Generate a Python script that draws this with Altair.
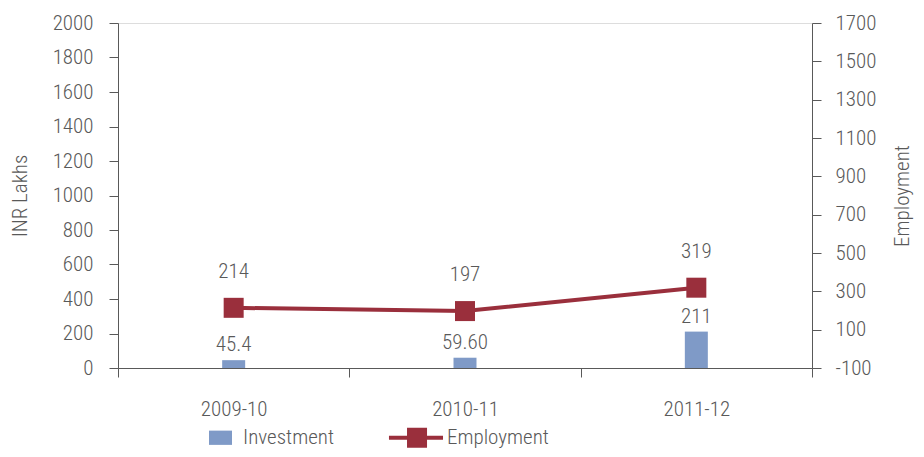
import altair as alt
import pandas as pd

years = ["2009-10", "2010-11", "2011-12"]
investment = [45.4, 59.60, 211]
investment_labels = ["45.4", "59.60", "211"]
employment = [214, 197, 319]
employment_labels = ["214", "197", "319"]
series = ["Investment", "Employment"]
left_ticks = list(range(0, 2001, 200))
right_ticks = list(range(-100, 1701, 200))

BLUE = "#7F9AC7"
RED = "#9A2F3C"
GREY = "#595959"
FONT = "Roboto Condensed, Liberation Sans Narrow, DejaVu Sans Condensed, Roboto"
FS = 21
FW = 300

df = pd.DataFrame({
    "year": years,
    "inv": investment,
    "inv_label": investment_labels,
    "emp": employment,
    "emp_label": employment_labels,
})
# hidden points (clipped, below the plot) that only carry the legend
legend_df = pd.DataFrame({"year": [years[0]] * 2, "inv": [-5000, -5000], "series": series})

x_enc = alt.X(
    "year:N",
    sort=years,
    scale=alt.Scale(paddingInner=0, paddingOuter=0),
    axis=alt.Axis(title=None, labelAngle=0, tickBand="extent", tickSize=9,
                  labelPadding=21, domainColor=GREY, tickColor=GREY,
                  labelColor=GREY, labelFontSize=FS, labelFont=FONT, labelFontWeight=FW),
)

y_left = alt.Y(
    "inv:Q",
    scale=alt.Scale(domain=[0, 2000], nice=False, zero=True),
    axis=alt.Axis(title="INR Lakhs", values=left_ticks, orient="left", grid=False,
                  labelExpr="'' + datum.value", labelOverlap=False, labelFlush=False,
                  tickSize=9, labelPadding=16, titlePadding=22, domainColor=GREY,
                  tickColor=GREY, labelColor=GREY, titleColor=GREY,
                  labelFontSize=FS, titleFontSize=21, titleFontWeight=FW,
                  labelFontWeight=FW, labelFont=FONT, titleFont=FONT),
)

y_right = alt.Y(
    "emp:Q",
    scale=alt.Scale(domain=[-100, 1700], nice=False, zero=False),
    axis=alt.Axis(title="Employment", values=right_ticks, orient="right", grid=False,
                  labelExpr="'' + datum.value", labelOverlap=False, labelFlush=False,
                  tickSize=9, labelPadding=14, titlePadding=37, titleAngle=270,
                  domainColor=GREY, tickColor=GREY, labelColor=GREY, titleColor=GREY,
                  labelFontSize=FS, titleFontSize=21, titleFontWeight=FW,
                  labelFontWeight=FW, labelFont=FONT, titleFont=FONT),
)

base = alt.Chart(df)

bars = base.mark_bar(size=23, color=BLUE).encode(x=x_enc, y=y_left)
bar_text = base.mark_text(dy=-15, baseline="middle", fontSize=FS, fontWeight=FW,
                          font=FONT, color=GREY).encode(
    x=x_enc, y=y_left, text="inv_label:N"
)

inv_path = "M-1,-0.62H1V0.62H-1Z"
emp_path = "M-3.09,-0.17H1.61V0.17H-3.09Z M-1.52,-0.87H0.22V0.87H-1.52Z"

legend_layer = alt.Chart(legend_df).mark_point(filled=True, clip=True, opacity=1).encode(
    x=x_enc,
    y=y_left,
    color=alt.Color("series:N", scale=alt.Scale(domain=series, range=[BLUE, RED]),
                    legend=alt.Legend(title=None, orient="none", direction="horizontal",
                                      legendX=91, legendY=403, symbolSize=529,
                                      symbolOpacity=1, symbolStrokeWidth=0,
                                      labelOffset=11, columnPadding=54, padding=0,
                                      labelFontSize=FS, labelFont=FONT,
                                      labelFontWeight=FW, labelColor=GREY)),
    shape=alt.Shape("series:N", scale=alt.Scale(domain=series, range=[inv_path, emp_path])),
)

left = alt.layer(bars, bar_text, legend_layer)

line = base.mark_line(color=RED, strokeWidth=4).encode(x=x_enc, y=y_right)
points = base.mark_square(size=400, color=RED, opacity=1).encode(x=x_enc, y=y_right)
line_text = base.mark_text(dy=-36, baseline="middle", fontSize=FS, fontWeight=FW,
                           font=FONT, color=GREY).encode(
    x=x_enc, y=y_right, text="emp_label:N"
)

right = alt.layer(line, points, line_text)

chart = alt.layer(left, right).resolve_scale(y="independent").properties(
    width=694, height=345,
    autosize=alt.AutoSizeParams(type="none"),
    padding={"left": 110, "top": 15, "right": 104, "bottom": 81},
).configure_view(stroke=None).configure(font=FONT)

chart.save("out.html", embed_options={"renderer": "svg", "actions": False})
